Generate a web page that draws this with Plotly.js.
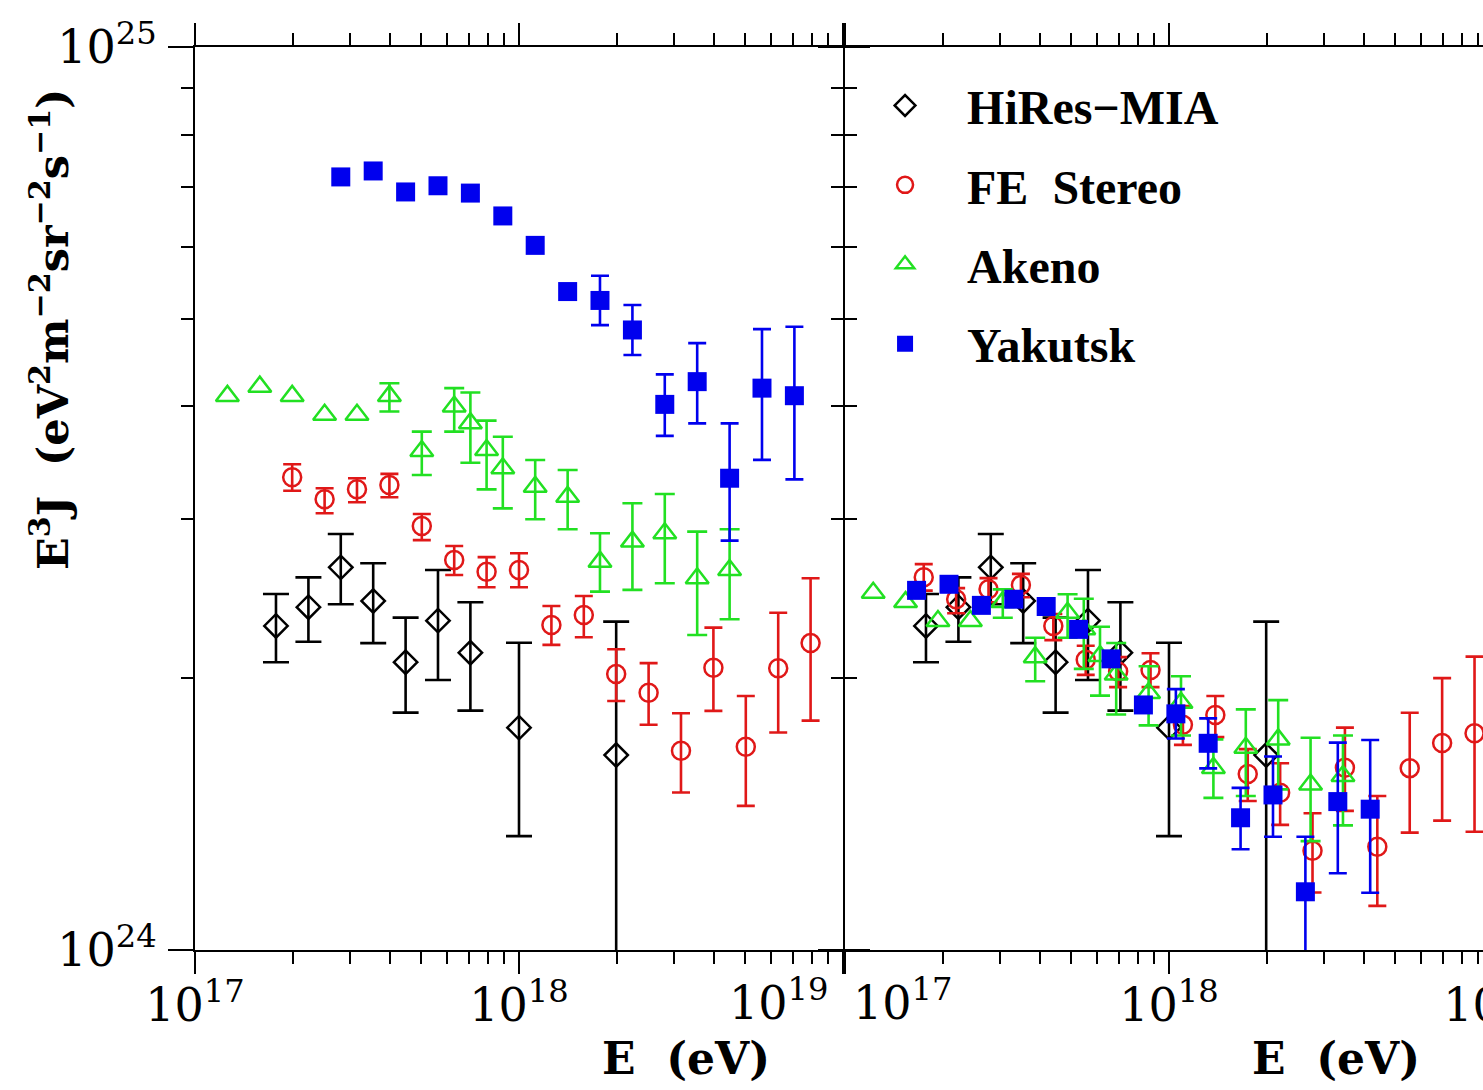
<!DOCTYPE html>
<html>
<head>
<meta charset="utf-8">
<script src="https://cdn.plot.ly/plotly-3.0.1.min.js"></script>
<style>
html,body{margin:0;padding:0;overflow:hidden;background:#ffffff;}
#plot{width:1500px;height:1090px;}
</style>
</head>
<body>
<div id="plot"></div>
<script>
// ---------------- data (E in eV, E^3 J in eV^2 m^-2 sr^-1 s^-1) ----------------
// Left panel: published energy scales
const hiresE   = [1.778e17, 2.239e17, 2.818e17, 3.548e17, 4.467e17, 5.623e17, 7.079e17, 1.0e18, 1.995e18];
const hiresJ   = [2.285e24, 2.397e24, 2.653e24, 2.435e24, 2.083e24, 2.316e24, 2.134e24, 1.763e24, 1.644e24];
const hiresHi  = [2.479e24, 2.586e24, 2.889e24, 2.681e24, 2.334e24, 2.635e24, 2.427e24, 2.189e24, 2.310e24];
const hiresLo  = [2.083e24, 2.195e24, 2.415e24, 2.187e24, 1.832e24, 1.991e24, 1.841e24, 1.337e24, 0.5e24];

const feE  = [1.995e17, 2.512e17, 3.162e17, 3.981e17, 5.012e17, 6.310e17, 7.943e17, 1.0e18, 1.259e18,
              1.585e18, 1.995e18, 2.512e18, 3.162e18, 3.981e18, 5.012e18, 6.310e18, 7.943e18];
const feJ  = [3.338e24, 3.156e24, 3.237e24, 3.273e24, 2.948e24, 2.704e24, 2.624e24, 2.635e24, 2.291e24,
              2.350e24, 2.021e24, 1.927e24, 1.662e24, 2.054e24, 1.679e24, 2.051e24, 2.187e24];
const feHi = [3.451e24, 3.246e24, 3.330e24, 3.367e24, 3.040e24, 2.802e24, 2.723e24, 2.750e24, 2.404e24,
              2.466e24, 2.153e24, 2.078e24, 1.829e24, 2.275e24, 1.911e24, 2.363e24, 2.580e24];
const feLo = [3.226e24, 3.045e24, 3.132e24, 3.172e24, 2.844e24, 2.602e24, 2.522e24, 2.522e24, 2.177e24,
              2.220e24, 1.887e24, 1.776e24, 1.494e24, 1.840e24, 1.444e24, 1.741e24, 1.795e24];

const akenoE  = [1.259e17, 1.585e17, 1.995e17, 2.512e17, 3.162e17, 3.981e17, 5.012e17, 6.310e17, 7.079e17,
                 7.943e17, 8.913e17, 1.122e18, 1.413e18, 1.778e18, 2.239e18, 2.818e18, 3.548e18, 4.467e18];
const akenoJ  = [4.108e24, 4.206e24, 4.108e24, 3.914e24, 3.914e24, 4.108e24, 3.570e24, 3.998e24, 3.832e24,
                 3.579e24, 3.415e24, 3.259e24, 3.177e24, 2.692e24, 2.833e24, 2.894e24, 2.580e24, 2.635e24];
const akenoHi = [null, null, null, null, null, 4.243e24, 3.750e24, 4.190e24, 4.143e24,
                 3.857e24, 3.702e24, 3.488e24, 3.401e24, 2.894e24, 3.124e24, 3.199e24, 2.906e24, 2.924e24];
const akenoLo = [null, null, null, null, null, 3.947e24, 3.357e24, 3.750e24, 3.464e24,
                 3.237e24, 3.084e24, 2.999e24, 2.924e24, 2.494e24, 2.505e24, 2.548e24, 2.233e24, 2.324e24];

const yakE  = [2.818e17, 3.548e17, 4.467e17, 5.623e17, 7.079e17, 8.913e17, 1.122e18, 1.413e18,
               1.778e18, 2.239e18, 2.818e18, 3.548e18, 4.467e18, 5.623e18, 7.079e18];
const yakJ  = [7.18e24, 7.29e24, 6.91e24, 7.02e24, 6.89e24, 6.50e24, 6.03e24, 5.36e24,
               5.24e24, 4.86e24, 4.02e24, 4.26e24, 3.33e24, 4.19e24, 4.11e24];
const yakHi = [null, null, null, null, null, null, null, null,
               5.58e24, 5.18e24, 4.34e24, 4.70e24, 3.83e24, 4.87e24, 4.90e24];
const yakLo = [null, null, null, null, null, null, null, null,
               4.92e24, 4.56e24, 3.71e24, 3.83e24, 2.84e24, 3.49e24, 3.32e24];

// Right panel: energy scales adjusted (HiRes-MIA unchanged)
const feE2  = [1.750e17, 2.203e17, 2.773e17, 3.491e17, 4.395e17, 5.533e17, 6.966e17, 8.770e17, 1.104e18,
               1.390e18, 1.750e18, 2.203e18, 2.773e18, 3.491e18, 4.395e18, 5.533e18, 6.966e18, 8.770e18];
const feJ2  = [2.587e24, 2.446e24, 2.509e24, 2.537e24, 2.285e24, 2.096e24, 2.034e24, 2.042e24, 1.776e24,
               1.821e24, 1.566e24, 1.493e24, 1.288e24, 1.592e24, 1.301e24, 1.590e24, 1.695e24, 1.738e24];
const feHi2 = [2.675e24, 2.516e24, 2.581e24, 2.609e24, 2.356e24, 2.172e24, 2.110e24, 2.131e24, 1.863e24,
               1.911e24, 1.669e24, 1.610e24, 1.417e24, 1.763e24, 1.481e24, 1.831e24, 2.000e24, 2.113e24];
const feLo2 = [2.500e24, 2.360e24, 2.427e24, 2.458e24, 2.204e24, 2.017e24, 1.955e24, 1.955e24, 1.687e24,
               1.721e24, 1.462e24, 1.376e24, 1.158e24, 1.426e24, 1.119e24, 1.349e24, 1.391e24, 1.352e24];

const akenoE2  = [1.222e17, 1.538e17, 1.936e17, 2.438e17, 3.069e17, 3.864e17, 4.864e17, 5.458e17, 6.124e17,
                  6.871e17, 8.650e17, 1.089e18, 1.371e18, 1.726e18, 2.173e18, 2.735e18, 3.443e18];
const akenoJ2  = [2.486e24, 2.428e24, 2.314e24, 2.314e24, 2.428e24, 2.110e24, 2.363e24, 2.265e24, 2.116e24,
                  2.019e24, 1.926e24, 1.878e24, 1.591e24, 1.675e24, 1.711e24, 1.525e24, 1.558e24];
const akenoHi2 = [null, null, null, null, 2.508e24, 2.217e24, 2.477e24, 2.449e24, 2.280e24,
                  2.188e24, 2.062e24, 2.010e24, 1.711e24, 1.847e24, 1.891e24, 1.718e24, 1.728e24];
const akenoLo2 = [null, null, null, null, 2.333e24, 1.984e24, 2.217e24, 2.048e24, 1.913e24,
                  1.823e24, 1.773e24, 1.728e24, 1.474e24, 1.481e24, 1.506e24, 1.320e24, 1.374e24];

const yakE2  = [1.663e17, 2.094e17, 2.636e17, 3.319e17, 4.178e17, 5.260e17, 6.622e17, 8.337e17,
                1.050e18, 1.321e18, 1.663e18, 2.094e18, 2.636e18, 3.319e18, 4.178e18];
const yakJ2  = [2.502e24, 2.541e24, 2.408e24, 2.446e24, 2.401e24, 2.265e24, 2.101e24, 1.868e24,
                1.826e24, 1.694e24, 1.401e24, 1.485e24, 1.160e24, 1.460e24, 1.432e24];
const yakHi2 = [null, null, null, null, null, null, null, null,
                1.945e24, 1.805e24, 1.512e24, 1.638e24, 1.335e24, 1.697e24, 1.708e24];
const yakLo2 = [null, null, null, null, null, null, null, null,
                1.715e24, 1.589e24, 1.293e24, 1.335e24, 0.990e24, 1.216e24, 1.157e24];

const seriesNames = ['HiRes\u2212MIA', 'FE\u00a0 Stereo', 'Akeno', 'Yakutsk'];
const xTickVals = [1e17, 1e18, 1e19];
const xTickTextL = ['10<sup>17</sup>', '10<sup>18</sup>', ''];
const xTickTextR = ['', '10<sup>18</sup>', '10<sup>19</sup>'];
const edgeLabelL = '10<sup>19</sup>';   // left panel, 1e19 (drawn inward)
const edgeLabelR = '10<sup>17</sup>';   // right panel, 1e17 (drawn inward)
const yTickVals = [1e24, 1e25];
const yTickText = ['10<sup>24</sup>', '10<sup>25</sup>'];

// ---------------- helpers ----------------
function errY(y, hi, lo, w, color) {
  return {
    type: 'data', symmetric: false, visible: true,
    array: hi.map((h, i) => h == null ? NaN : h - y[i]),
    arrayminus: lo.map((l, i) => l == null ? NaN : y[i] - l),
    color: color, thickness: 2.6, width: w
  };
}
const minorX = [];
[1e17, 1e18].forEach(d => { for (let k = 2; k <= 9; k++) minorX.push(k * d); });
const minorY = [];
for (let k = 2; k <= 9; k++) minorY.push(k * 1e24);

const BLACK = '#000000', RED = '#e01818', GREEN = '#22e022', BLUE = '#0000ee';
const styles = [
  {sym: 'diamond-open', size: 18, color: BLACK, w: 13},
  {sym: 'circle-open', size: 18, color: RED, w: 9},
  {sym: 'triangle-up-open', size: 20, color: GREEN, w: 10},
  {sym: 'square', size: 19, color: BLUE, w: 9}
];
const sets = [
  [hiresE, hiresJ, hiresHi, hiresLo, hiresE, hiresJ, hiresHi, hiresLo],
  [feE, feJ, feHi, feLo, feE2, feJ2, feHi2, feLo2],
  [akenoE, akenoJ, akenoHi, akenoLo, akenoE2, akenoJ2, akenoHi2, akenoLo2],
  [yakE, yakJ, yakHi, yakLo, yakE2, yakJ2, yakHi2, yakLo2]
];

const traces = [];
function mk(st) {
  return {symbol: st.sym, size: st.size, color: st.color,
          line: {color: st.color, width: st.sym === 'square' ? 0 : 2.5}};
}
sets.forEach((s, i) => {
  const st = styles[i];
  traces.push({type: 'scatter', mode: 'markers', name: seriesNames[i], legendgroup: 'g' + i,
    x: s[0], y: s[1], xaxis: 'x', yaxis: 'y', marker: mk(st),
    error_y: errY(s[1], s[2], s[3], st.w, st.color), showlegend: true, hoverinfo: 'x+y'});
});
sets.forEach((s, i) => {
  const st = styles[i];
  traces.push({type: 'scatter', mode: 'markers', name: seriesNames[i], legendgroup: 'g' + i,
    x: s[4], y: s[5], xaxis: 'x2', yaxis: 'y2', marker: mk(st),
    error_y: errY(s[5], s[6], s[7], st.w, st.color), showlegend: false, hoverinfo: 'x+y'});
});

// ---------------- layout ----------------
const ML = 195, MR = 7, MT = 47, MB = 140, W = 1500, H = 1090;
const PW = W - ML - MR;            // 1298
const PH = H - MT - MB;            // 903
const dL = 648 / PW, dR = 650 / PW;
const tickFont = {family: 'DejaVu Serif', size: 46, color: '#000'};

function xAxis(domain, anchor, ticktext) {
  return {
    type: 'log', range: [17, 19], domain: domain, anchor: anchor,
    showline: true, linecolor: '#000', linewidth: 2, mirror: 'allticks',
    ticks: 'outside', ticklen: 22, tickwidth: 2, tickcolor: '#000',
    tickmode: 'array', tickvals: xTickVals, ticktext: ticktext,
    ticklabelstandoff: -8, ticklabeloverflow: 'allow',
    tickfont: tickFont, showgrid: false, zeroline: false,
    minor: {tickmode: 'array', tickvals: minorX, ticks: 'outside', ticklen: 12,
            tickwidth: 2, tickcolor: '#000', showgrid: false}
  };
}
function yAxis(anchor, showLabels) {
  return {
    type: 'log', range: [24, 25], domain: [0, 1], anchor: anchor,
    showline: true, linecolor: '#000', linewidth: 2, mirror: 'allticks',
    ticks: 'outside', ticklen: 25, tickwidth: 2, tickcolor: '#000',
    tickmode: 'array', tickvals: yTickVals, ticktext: yTickText,
    showticklabels: showLabels, ticklabelstandoff: 2, ticklabeloverflow: 'allow',
    tickfont: tickFont, showgrid: false, zeroline: false,
    minor: {tickmode: 'array', tickvals: minorY, ticks: 'outside', ticklen: 12,
            tickwidth: 2, tickcolor: '#000', showgrid: false}
  };
}

const titleFont = {family: 'DejaVu Serif', size: 44, color: '#000', weight: 'bold'};
const px2x = px => (px - ML) / PW;
const px2y = py => (MT + PH - py) / PH;
const layout = {
  width: W, height: H,
  margin: {l: ML, r: MR, t: MT, b: MB, pad: 0},
  paper_bgcolor: '#fff', plot_bgcolor: '#fff',
  showlegend: true,
  xaxis: xAxis([0, dL], 'y', xTickTextL),
  xaxis2: xAxis([dR, 1], 'y2', xTickTextR),
  yaxis: yAxis('x', true),
  yaxis2: Object.assign(yAxis('x2', false), {matches: 'y'}),
  legend: {
    x: dR - 0.0015, xanchor: 'left', y: 0.977, yanchor: 'top',
    bgcolor: 'rgba(0,0,0,0)', borderwidth: 0,
    font: {family: 'Liberation Serif', size: 48, color: '#000', weight: 'bold'},
    itemwidth: 114, tracegroupgap: 14, traceorder: 'grouped'
  },
  annotations: [
    {text: 'E<sup>3</sup>J\u00a0 (eV<sup>2</sup>m<sup>\u22122</sup>sr<sup>\u22122</sup>s<sup>\u22121</sup>)',
     textangle: -90, xref: 'paper', yref: 'paper', x: px2x(50), y: px2y(330),
     xanchor: 'center', yanchor: 'middle', showarrow: false,
     font: {family: 'DejaVu Serif', size: 43, color: '#000', weight: 'bold'}},
    {text: 'E\u00a0 (eV)', xref: 'paper', yref: 'paper', x: px2x(686), y: px2y(1058),
     xanchor: 'center', yanchor: 'middle', showarrow: false, font: titleFont},
    {text: 'E\u00a0 (eV)', xref: 'paper', yref: 'paper', x: px2x(1336), y: px2y(1058),
     xanchor: 'center', yanchor: 'middle', showarrow: false, font: titleFont},
    {text: edgeLabelL, xref: 'paper', yref: 'paper', x: px2x(831), y: px2y(968),
     xanchor: 'right', yanchor: 'top', showarrow: false, font: tickFont},
    {text: edgeLabelR, xref: 'paper', yref: 'paper', x: px2x(851), y: px2y(968),
     xanchor: 'left', yanchor: 'top', showarrow: false, font: tickFont}
  ]
};

Plotly.newPlot('plot', traces, layout, {displayModeBar: false, responsive: false});
</script>
</body>
</html>
